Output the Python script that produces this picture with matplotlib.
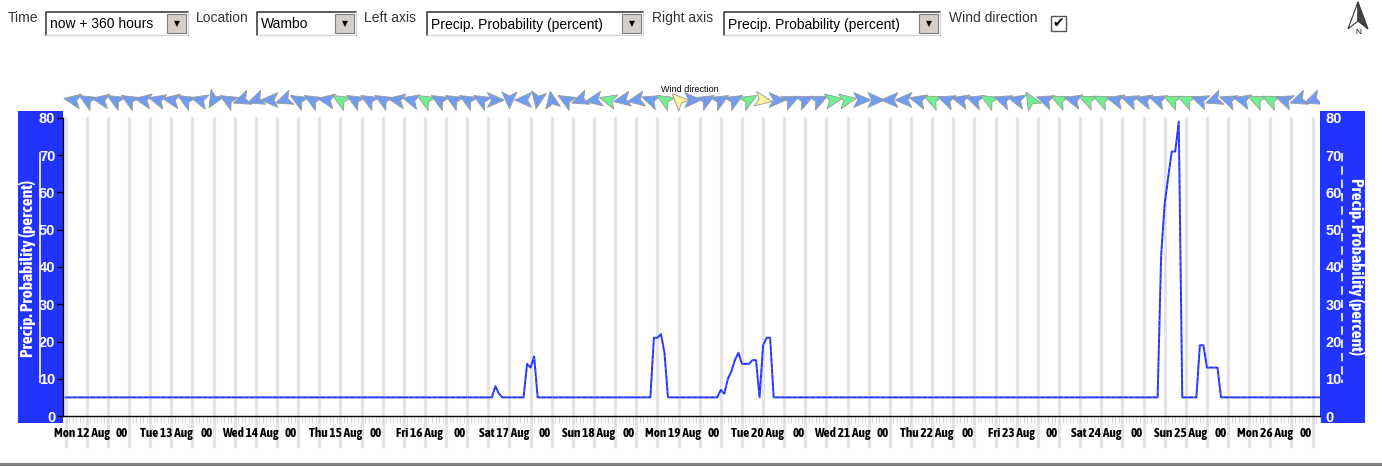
import matplotlib.pyplot as plt
import numpy as np
from matplotlib.patches import Rectangle, Polygon
from matplotlib.lines import Line2D

W, H = 1382, 467
FONT = ['Liberation Sans', 'DejaVu Sans']
NARROW = ['Asap Condensed', 'Liberation Sans', 'DejaVu Sans']
BLUE = '#2233ff'

# hours counted from Mon 12 Aug 00:00
hours = [8, 129, 130, 131, 132, 138, 139, 140, 141, 142,
         174, 175, 176, 177, 178, 179,
         193, 194, 195, 196, 197, 198, 199, 200, 202, 203, 204, 205, 206, 207, 208, 209,
         318, 319, 320, 321, 322, 323, 324, 325,
         329, 330, 331, 332, 335, 336, 364]
precip = [5, 5, 8, 6, 5, 5, 14, 13, 16, 5,
          5, 21, 21, 22, 17, 5,
          5, 7, 6, 10, 12, 15, 17, 14, 14, 15, 15, 5, 19, 21, 21, 5,
          5, 43, 57, 64, 71, 71, 79, 5,
          5, 19, 19, 13, 13, 5, 5]

days = ['Mon 12 Aug', 'Tue 13 Aug', 'Wed 14 Aug', 'Thu 15 Aug', 'Fri 16 Aug',
        'Sat 17 Aug', 'Sun 18 Aug', 'Mon 19 Aug', 'Tue 20 Aug', 'Wed 21 Aug',
        'Thu 22 Aug', 'Fri 23 Aug', 'Sat 24 Aug', 'Sun 25 Aug', 'Mon 26 Aug']
y_ticks = [0, 10, 20, 30, 40, 50, 60, 70, 80]

# wind arrows every 4 h: direction the arrow points (deg, 0 = right), speed class
wind_hours = list(range(10, 363, 4))
wind_dir = [170, 150, 170, 150, 150, 170, 165, 170, 150, 165,
            240, 150, 200, 200, 180, 200, 150, 150, 170, 150,
            150, 150, 150, 170, 165, 150, 150, 150, 150, 150,
            0, 270, 180, 260, 100, 150, 200, 190, 165, 190,
            190, 160, 150, 135, 0, 30, 30, 30, 30, 350,
            0, 25, 25, 25, 10, 10, 0, 0, 180, 180,
            165, 155, 160, 165, 160, 150, 160, 165, 120, 160,
            155, 165, 155, 155, 165, 160, 165, 160, 155, 155,
            160, 200, 160, 165, 155, 155, 160, 200, 200]
wind_col = ('bbbbbbbbbb' 'bbbbbbbbbg' 'bbbbbgbbbb' 'bbbbbbbbgb' 'bbgybbbbgy'
            'bbbbggbbbb' 'bgbbbgbbgb' 'gbggbbbbgg' 'bbbbggbbb')
WIND_FC = {'b': '#6f9cf2', 'g': '#6ef091', 'y': '#faf49b'}

X0, X1 = 7.25, 364.1


def fx(x):
    return x / W


def fy(y):
    return 1 - y / H


fig = plt.figure(figsize=(W / 100, H / 100), dpi=100)

# ---- controls along the top
def label(x, text):
    fig.text(fx(x), fy(18), text, fontsize=10, family=FONT, color='#333333', va='center')


def combo(x0, x1, text):
    y0, y1 = 12, 35
    fig.patches.append(Rectangle((fx(x0), fy(y1)), (x1 - x0) / W, (y1 - y0) / H,
                                 transform=fig.transFigure, fc='white', ec='none'))
    fig.lines.append(Line2D([fx(x0), fx(x0), fx(x1)], [fy(y1), fy(y0), fy(y0)],
                            transform=fig.transFigure, color='#404040', lw=1.2))
    fig.lines.append(Line2D([fx(x0), fx(x1), fx(x1)], [fy(y1), fy(y1), fy(y0)],
                            transform=fig.transFigure, color='#d8d8d8', lw=1))
    bx0, bx1 = x1 - 21, x1 - 2
    fig.patches.append(Rectangle((fx(bx0), fy(y1 - 2)), (bx1 - bx0) / W, (y1 - y0 - 4) / H,
                                 transform=fig.transFigure, fc='#d4d0c8', ec='#808080', lw=0.8))
    fig.text(fx((bx0 + bx1) / 2), fy(24), '\u25bc', fontsize=5.5, ha='center', va='center',
             family='DejaVu Sans')
    fig.text(fx(x0 + 4), fy(24.5), text, fontsize=10, family=FONT, va='center')


label(8, 'Time')
combo(46, 188, 'now + 360 hours')
label(196, 'Location')
combo(257, 356, 'Wambo')
label(364, 'Left axis')
combo(427, 643, 'Precip. Probability (percent)')
label(652, 'Right axis')
combo(724, 940, 'Precip. Probability (percent)')
label(949, 'Wind direction')
fig.patches.append(Rectangle((fx(1051), fy(31)), 15 / W, 15 / H, transform=fig.transFigure,
                             fc='white', ec='#555555', lw=1))
fig.text(fx(1058.5), fy(23.5), '\u2714', fontsize=10, ha='center', va='center',
         family='DejaVu Sans', color='black')

# north arrow
fig.patches.append(Polygon([(fx(1358), fy(2)), (fx(1348), fy(29)), (fx(1358), fy(21))],
                           closed=True, transform=fig.transFigure, fc='white', ec='#333333', lw=0.8))
fig.patches.append(Polygon([(fx(1358), fy(2)), (fx(1368), fy(29)), (fx(1358), fy(21))],
                           closed=True, transform=fig.transFigure, fc='#444444', ec='#333333', lw=0.8))
fig.text(fx(1358), fy(32), 'N', fontsize=6, ha='center', va='center', family=FONT)

# bottom separator
fig.patches.append(Rectangle((0, fy(466)), 1, 3 / H, transform=fig.transFigure,
                             fc='#808080', ec='none'))

# ---- blue side panels (behind the axes so the tick labels show)
for px0 in (18, 1320):
    fig.patches.append(Rectangle((fx(px0), fy(423)), 45 / W, 312 / H, transform=fig.transFigure,
                                 fc=BLUE, ec='none', zorder=-1))
fig.lines.append(Line2D([fx(40), fx(40)], [fy(153), fy(382)], transform=fig.transFigure,
                        color='white', lw=1.2))
fig.lines.append(Line2D([fx(1342), fx(1342)], [fy(153), fy(383)], transform=fig.transFigure,
                        color='white', lw=1.2, dashes=(5, 3)))
fig.text(fx(28), fy(268), 'Precip. Probability (percent)', rotation=90, ha='center', va='center',
         color='white', fontsize=12.5, fontweight='bold', family=NARROW)
fig.text(fx(1356), fy(267), 'Precip. Probability (percent)', rotation=-90, ha='center', va='center',
         color='white', fontsize=12.5, fontweight='bold', family=NARROW)

# ---- main plot
ax = fig.add_axes([fx(63), fy(416), (1320 - 63) / W, (416 - 118) / H])
ax.set_xlim(X0, X1)
ax.set_ylim(0, 80)
for s in ('top', 'right'):
    ax.spines[s].set_visible(False)
ax.spines['left'].set_linewidth(1)
ax.spines['bottom'].set_linewidth(1)

for g in range(8, 363, 6):
    ax.axvline(g, ymin=-0.1, ymax=1, color='#e4e4e4', lw=2.2, zorder=0, clip_on=False)

ax.plot(hours, precip, color=BLUE, lw=1.4, zorder=3)
ax.plot(hours, precip, color='white', lw=0.5, alpha=0.5, dashes=(1.5, 7), zorder=4)

ax.set_yticks(y_ticks)
ax.tick_params(axis='y', length=4, width=1, colors='black', pad=1.5)
for t in ax.get_yticklabels():
    t.set_color('white')
    t.set_fontweight('bold')
    t.set_fontsize(10.5)
    t.set_family(FONT)

xt = []
xl = []
for i, d in enumerate(days):
    xt += [12.5 + 24 * i, 24 + 24 * i]
    xl += [d, '00']
ax.set_xticks(xt)
ax.set_xticklabels(xl, fontsize=9.5, fontweight='bold', family=NARROW)
ax.tick_params(axis='x', length=0, pad=8)
ax.xaxis.remove_overlapping_locs = False
ax.set_xticks(range(8, 365), minor=True)
ax.tick_params(axis='x', which='minor', length=5, width=0.8, color='#d9d9d9')

ax2 = ax.twinx()
ax2.set_ylim(0, 80)
ax2.set_yticks(y_ticks)
for s in ('top', 'right', 'left', 'bottom'):
    ax2.spines[s].set_visible(False)
ax2.tick_params(axis='y', length=0, pad=4)
for t in ax2.get_yticklabels():
    t.set_color('white')
    t.set_fontweight('bold')
    t.set_fontsize(10.5)
    t.set_family(FONT)

# ---- wind direction row (pixel units)
wax = fig.add_axes([fx(63), fy(115), (1320 - 63) / W, 30 / H])
wax.set_xlim(0, 1257)
wax.set_ylim(0, 30)
wax.axis('off')
shape = np.array([[9, 0], [-8, 7.5], [-4, 0], [-8, -7.5]])
for h, a, c in zip(wind_hours, wind_dir, wind_col):
    cx = (h - X0) / (X1 - X0) * 1257
    r = np.deg2rad(a)
    rot = np.array([[np.cos(r), -np.sin(r)], [np.sin(r), np.cos(r)]])
    pts = shape @ rot.T + [cx, 15]
    wax.add_patch(Polygon(pts, closed=True, fc=WIND_FC[c], ec='#9a9a9a', lw=0.6))
fig.text(fx(690), fy(89), 'Wind direction', fontsize=6.5, ha='center', va='center', family=FONT)

fig.savefig('out.png', dpi=100)
